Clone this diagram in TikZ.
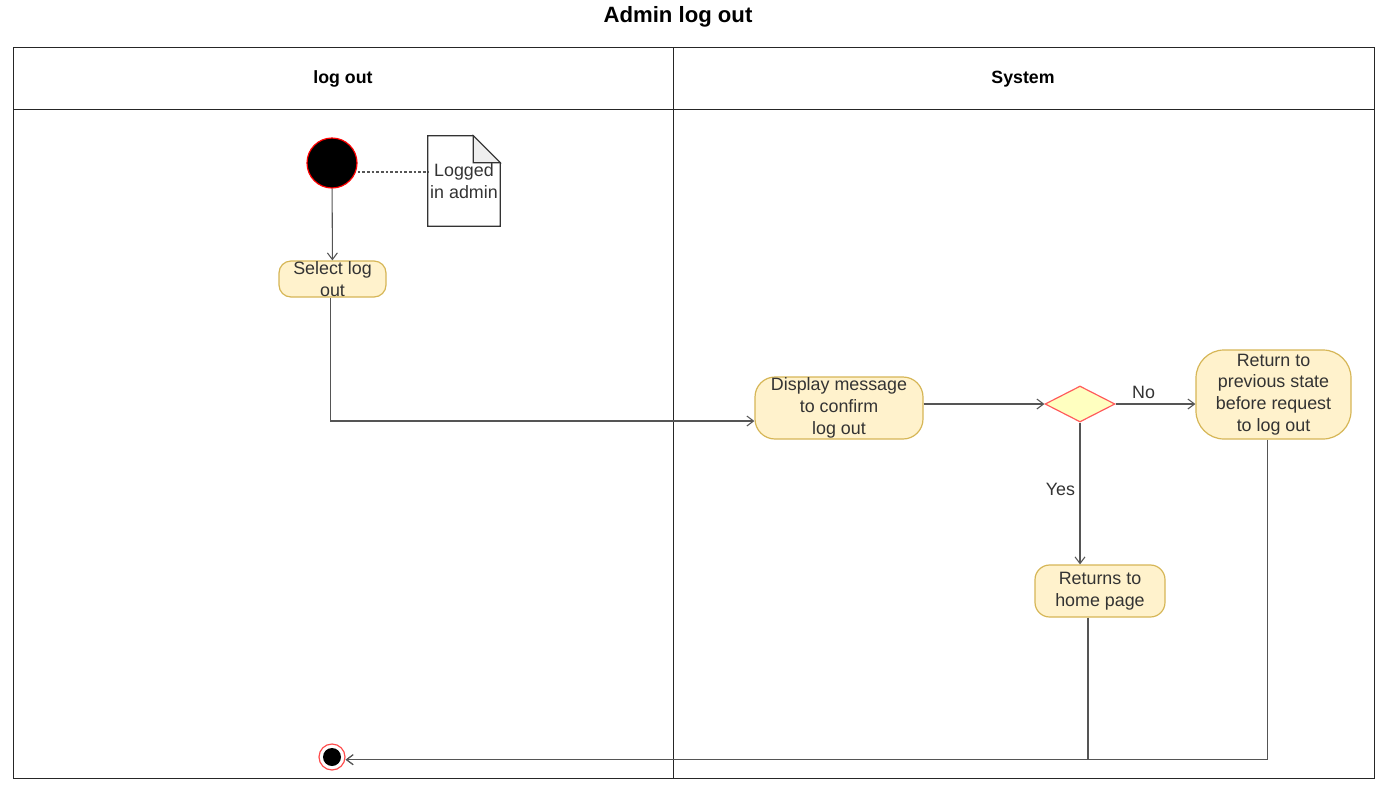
\documentclass[tikz,border=0pt]{standalone}
\usepackage{fontspec}
\setmainfont{Liberation Sans}
\usetikzlibrary{arrows.meta, shapes.geometric}
\definecolor{actfill}{HTML}{FFF2CC}
\definecolor{actline}{HTML}{D6B656}
\definecolor{decfill}{HTML}{FFFFC0}
\definecolor{decline}{HTML}{FF5C5C}
\definecolor{flowgray}{HTML}{555555}
\definecolor{txtgray}{HTML}{333333}
\definecolor{foldgray}{HTML}{EEEEEE}

\begin{document}
\begin{tikzpicture}[x=0.75pt, y=-0.75pt, >={Straight Barb[length=5pt, width=7.5pt]},
  body/.style={font=\fontsize{13.4}{16.3}\selectfont, text=txtgray},
  action/.style={body, draw=actline, fill=actfill, line width=0.9pt, align=center, inner sep=0pt},
  flow/.style={draw=flowgray, line width=0.8pt, ->},
  lane/.style={draw=black!85, line width=0.7pt}]

% Page size
\useasboundingbox (0,0) rectangle (1386,797);

% Title
\node[font=\fontsize{16.6}{20}\selectfont\bfseries] (title) at (678,17) {Admin log out};

% Pool and lanes
\draw[lane] (13,47) rectangle (1374,778);
\draw[lane] (13,109) -- (1374,109);
\draw[lane] (673,47) -- (673,778);
\node[font=\fontsize{13.3}{16}\selectfont\bfseries] (laneA) at (343,79) {log out};
\node[font=\fontsize{13.3}{16}\selectfont\bfseries] (laneB) at (1023,79) {System};

% Start and end states
\node[circle, draw=red, fill=black, line width=0.9pt, minimum size=37.5pt, inner sep=0pt] (start) at (332,163) {};
\node[circle, draw=red!70, fill=white, line width=0.9pt, minimum size=19.5pt, inner sep=0pt,
      path picture={\fill[black] (path picture bounding box.center) circle (6.75pt);}] (end) at (332,757) {};

% Note
\node[body, align=center, minimum width=54pt, minimum height=67.5pt, inner sep=0pt] (note) at (464,181) {Logged\\in admin};
\draw[black!80, line width=0.8pt] (note.south west) -- (note.north west) -- ([xshift=-20.25pt]note.north east)
  -- ([yshift=-20.25pt]note.north east) -- (note.south east) -- cycle;
\filldraw[fill=foldgray, draw=black!80, line width=0.8pt] ([xshift=-20.25pt]note.north east)
  -- ([xshift=-20.25pt, yshift=-20.25pt]note.north east) -- ([yshift=-20.25pt]note.north east) -- cycle;

% Actions
\node[action, rounded corners=9pt, minimum width=80.25pt, minimum height=27pt] (select) at (332.5,279) {Select log\\out};
\node[action, rounded corners=15pt, minimum width=126pt, minimum height=46.5pt] (display) at (839,408) {Display message\\to confirm\\ log out};
\node[diamond, draw=decline, fill=decfill, line width=0.9pt, minimum width=52.5pt, minimum height=27pt, inner sep=0pt] (dec) at (1080,404) {};
\node[action, rounded corners=21pt, minimum width=116.25pt, minimum height=66.75pt] (ret) at (1273.5,394.5) {Return to\\previous state\\before request\\to log out};
\node[action, rounded corners=11pt, minimum width=97.5pt, minimum height=39pt] (home) at (1100,591) {Returns to\\home page};

% Connectors
\draw[flowgray, line width=0.8pt, dash pattern=on 2pt off 1.5pt] ([yshift=-6.75pt]start.east) -- ([yshift=-6.75pt]start.east -| note.west);
\draw[flow] (start) -- (select);
\draw[flow] ([xshift=-1.5pt]select.south) |- ([yshift=-9.75pt]display.west);
\draw[flow] (display.east |- dec.west) -- (dec.west);
\draw[flow] (dec.east) -- node[body, above, pos=0.35] {No} (dec.east -| ret.west);
\draw[flow] (dec.south) -- node[body, left, pos=0.47] {Yes} (dec.south |- home.north);
\draw[flow] ([xshift=-9pt]home.south) |- ([yshift=-2pt]end.east);
\draw[flow] ([xshift=-4.5pt]ret.south) |- ([yshift=-2pt]end.east);

\end{tikzpicture}
\end{document}
